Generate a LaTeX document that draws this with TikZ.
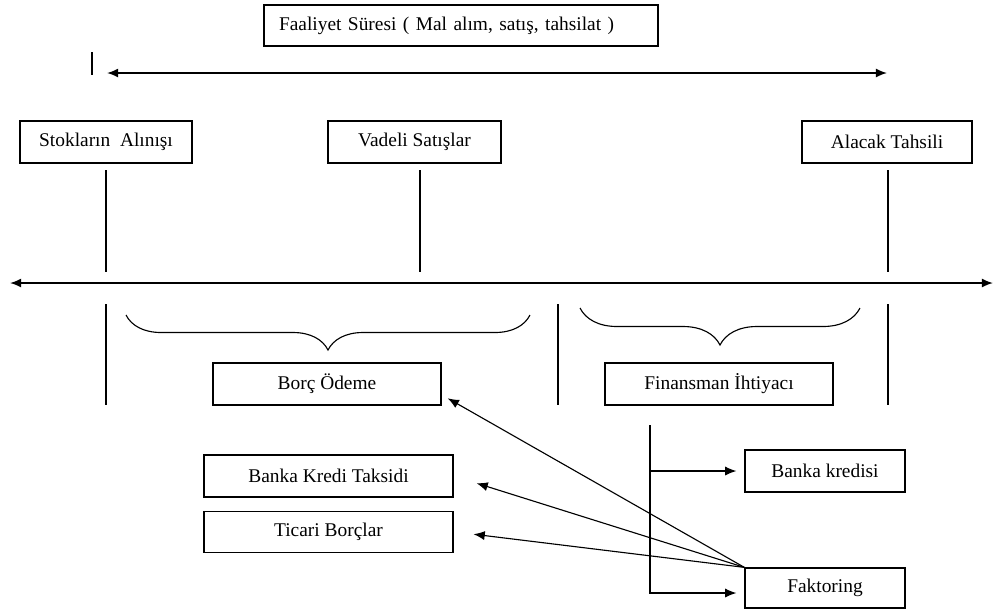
\documentclass[tikz,border=0pt]{standalone}
\usepackage{fontspec}
\setmainfont{Liberation Serif}
\usetikzlibrary{arrows.meta,positioning,calc,decorations.pathreplacing}

\begin{document}
\begin{tikzpicture}[x=0.25mm, y=-0.25mm, font=\fontsize{13.8}{16}\selectfont,
    >={Latex[length=8pt, width=6.5pt]},
    kutu/.style={draw, line width=0.9pt, minimum height=10.5mm, inner sep=2pt},
    ok/.style={->, line width=0.8pt},
    ciftok/.style={<->, line width=1.2pt},
    cizgi/.style={line width=0.9pt},
    parantez/.style={decorate, decoration={brace, mirror, amplitude=#1}, line width=0.8pt}]
            \useasboundingbox (0,0) rectangle (995,615);
            \node[kutu, minimum height=10.25mm, text width=91mm, inner xsep=3.75mm, align=left] (faaliyet) at (461,25.5)
                {Faaliyet Süresi ( Mal alım, satış, tahsilat )};
            \draw[cizgi] (92,52) -- (92,75);
            \draw[ciftok] (107,73) -- (887,73);
            \node[kutu, minimum width=43mm] (stok) at (106,142) {Stokların\ \ Alınışı};
            \node[kutu, minimum width=43.25mm] (vadeli) at (414.5,142) {Vadeli Satışlar};
            \node[kutu, minimum width=42.5mm] (alacak) at (887,142) {Alacak Tahsili};
            \foreach \x in {106,420,888} \draw[cizgi] (\x,170) -- (\x,272);
            \draw[ciftok] (10,283) -- (993,283);
            \foreach \x in {106,558,888} \draw[cizgi] (\x,304) -- (\x,405);
            \draw[parantez=8.75mm] (126,315) -- (530,315);
            \draw[parantez=9.25mm] (580,308) -- (860,308);
            \node[kutu, minimum width=57mm] (borc) at (327,384) {Borç Ödeme};
            \node[kutu, minimum width=57mm] (finans) at (719,384) {Finansman İhtiyacı};
            \node[kutu, minimum width=40mm] (kredi) at (825,471) {Banka kredisi};
            \node[kutu, minimum width=40mm, minimum height=10mm] (faktor) at (825,588) {Faktoring};
            \node[kutu, minimum width=62.25mm] (taksit) at (328.5,476) {Banka Kredi Taksidi};
            \node[kutu, minimum width=62.25mm, minimum height=10.25mm, below=3.25mm of taksit] (ticari) {Ticari Borçlar};
            \coordinate (fbas) at (650,425);
            \draw[ok, shorten >=2mm] (fbas) |- (kredi.west);
            \draw[ok, shorten >=2mm] (fbas) |- ([yshift=-1.25mm]faktor.west);
            \draw[ok, shorten >=1.75mm] (faktor.north west) -- ($(borc.east)!0.5!(borc.south east)$);
            \draw[ok, shorten >=6mm] (faktor.north west) -- (taksit.east);
            \draw[ok, shorten >=5mm] (faktor.north west) -- (ticari.east);
        \end{tikzpicture}
\end{document}
